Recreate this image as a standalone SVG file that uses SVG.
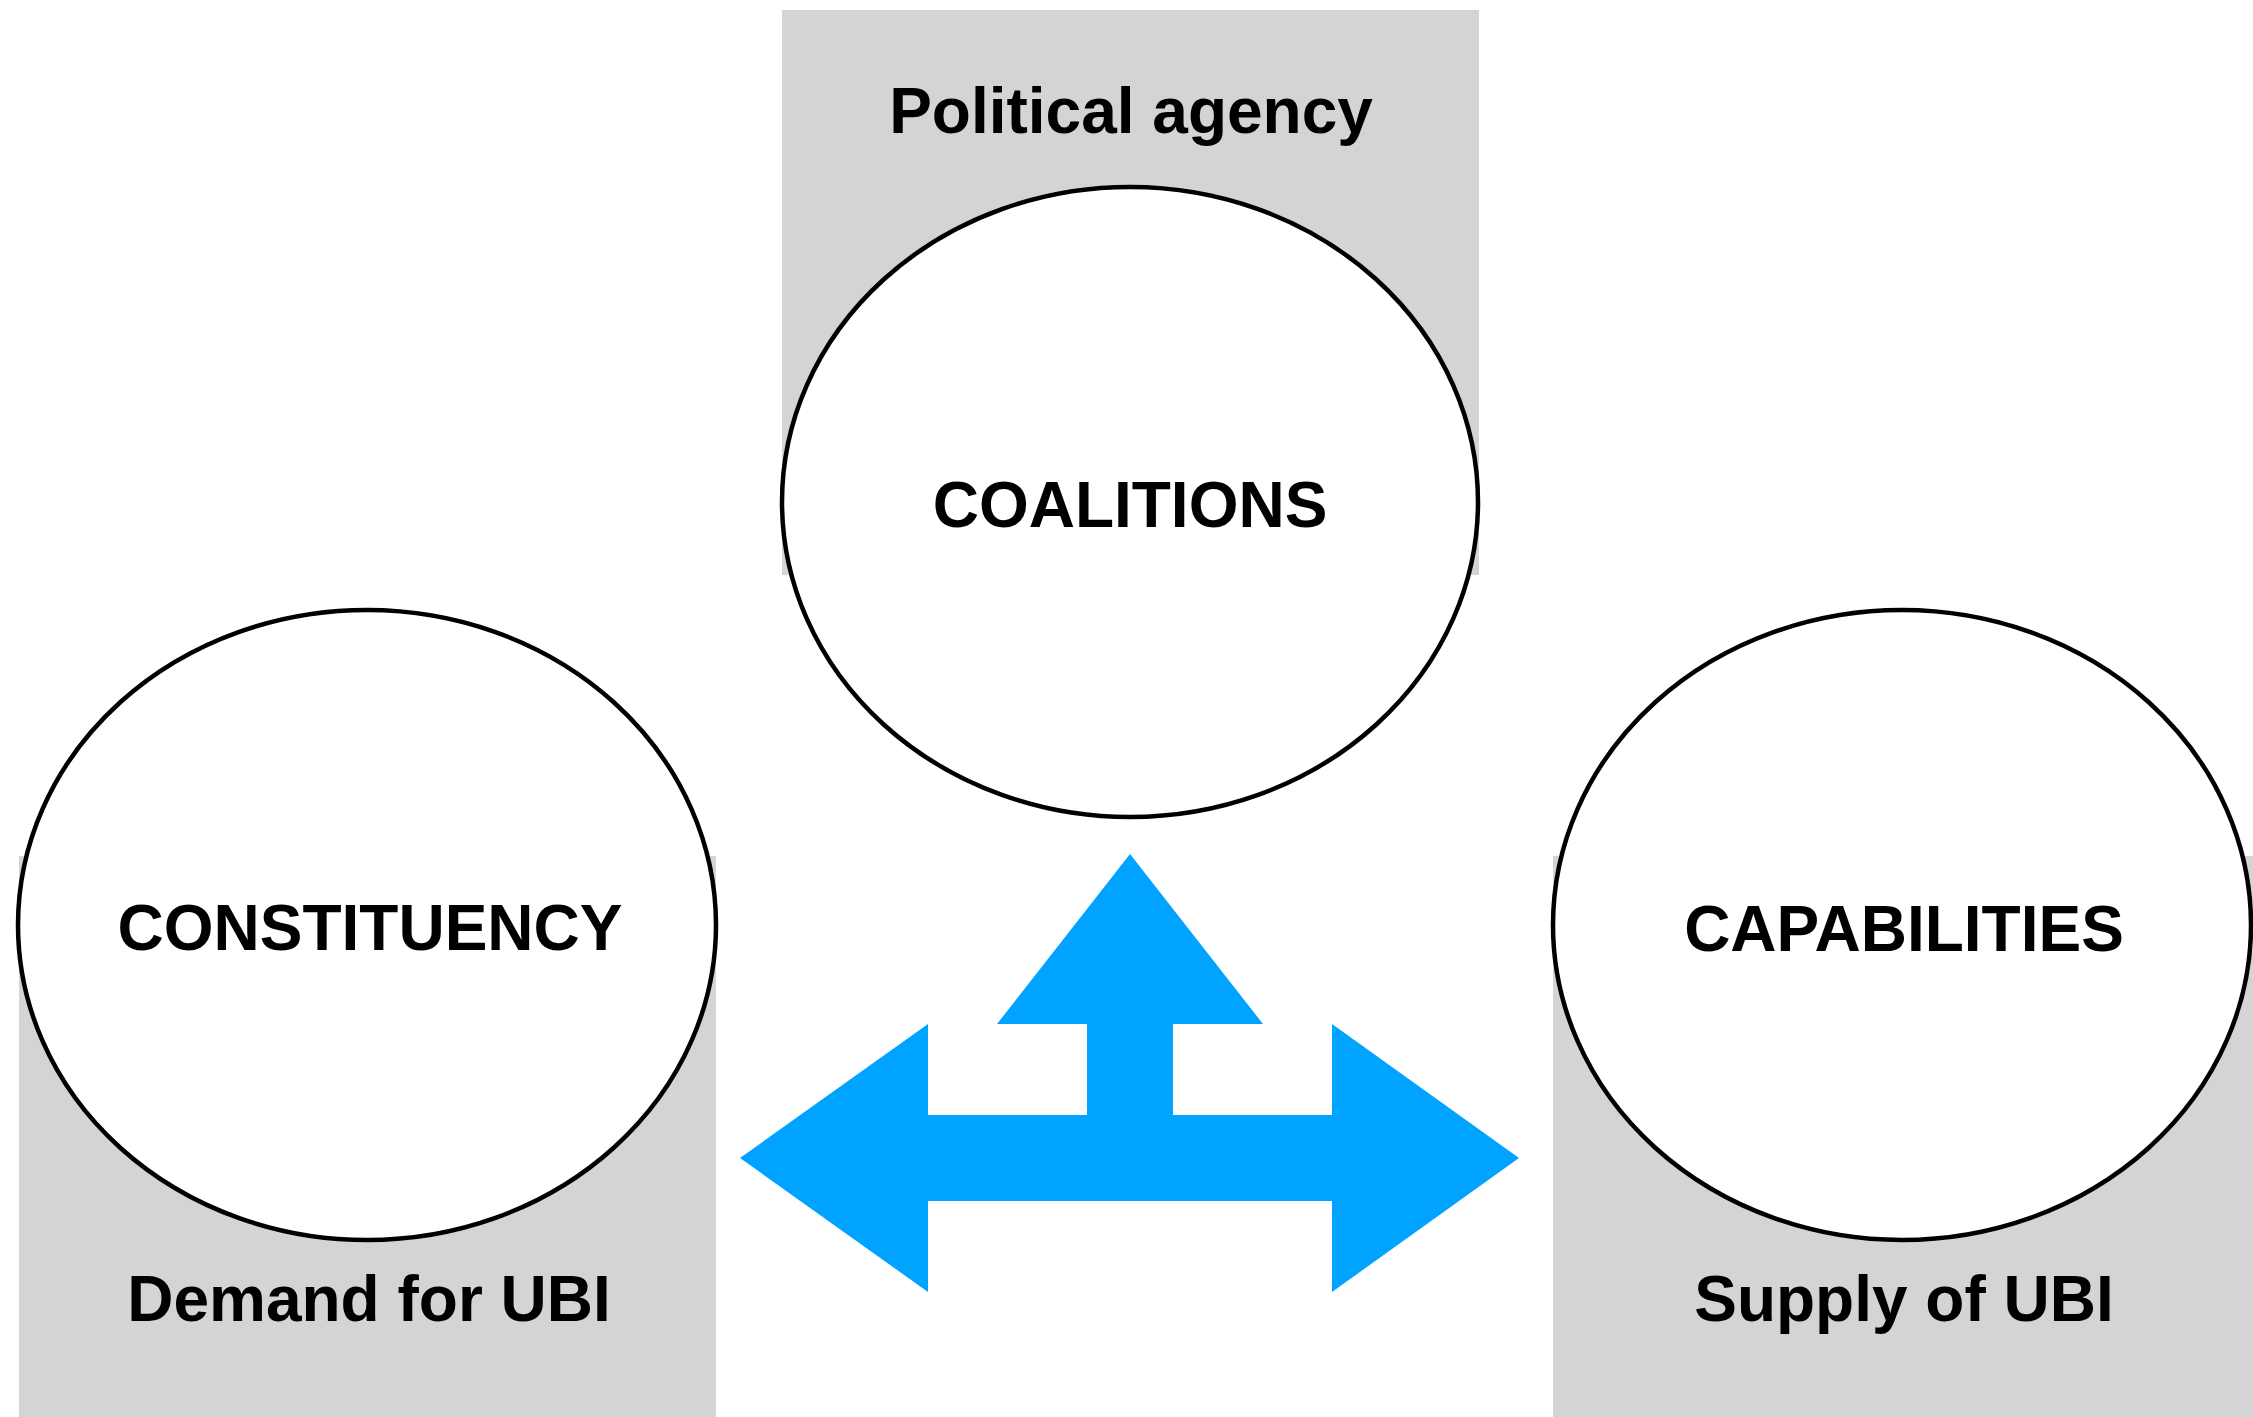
<svg xmlns="http://www.w3.org/2000/svg" width="2253" height="1417" viewBox="0 0 2253 1417">
  <style>
    .band { fill: #d4d4d4; }
    .node { fill: #ffffff; stroke: #000000; stroke-width: 4.5; }
    .lbl { font-family: "Liberation Sans", Arial, Helvetica, sans-serif; font-weight: bold; font-size: 64px; fill: #000000; text-anchor: middle; }
    .arrow { fill: #00a3ff; }
  </style>
  <rect width="2253" height="1417" fill="#ffffff"/>
  <g id="band-political-agency">
    <rect class="band" x="782" y="10" width="697" height="565"/>
    <text class="lbl" x="1131" y="133">Political agency</text>
  </g>
  <g id="band-demand">
    <rect class="band" x="19" y="856" width="697" height="561"/>
    <text class="lbl" x="369" y="1321">Demand for UBI</text>
  </g>
  <g id="band-supply">
    <rect class="band" x="1553" y="856" width="700" height="561"/>
    <text class="lbl" x="1904" y="1321">Supply of UBI</text>
  </g>
  <g id="connectors">
    <polygon class="arrow" points="1130,854 1263,1024 1173,1024 1173,1115 1332,1115 1332,1024 1519,1158 1332,1292 1332,1201 928,1201 928,1292 740,1158 928,1024 928,1115 1087,1115 1087,1024 997,1024"/>
  </g>
  <g id="node-coalitions">
    <ellipse class="node" cx="1130" cy="502" rx="348" ry="315"/>
    <text class="lbl" x="1130" y="527">COALITIONS</text>
  </g>
  <g id="node-constituency">
    <ellipse class="node" cx="367" cy="925" rx="349" ry="315"/>
    <text class="lbl" x="370" y="950">CONSTITUENCY</text>
  </g>
  <g id="node-capabilities">
    <ellipse class="node" cx="1902" cy="925" rx="349" ry="315"/>
    <text class="lbl" x="1904" y="951">CAPABILITIES</text>
  </g>
</svg>
